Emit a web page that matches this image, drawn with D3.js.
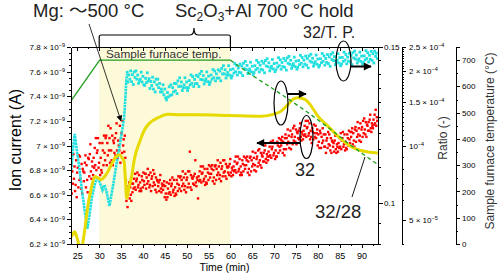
<!DOCTYPE html>
<html>
<head>
<meta charset="utf-8">
<script src="https://cdn.jsdelivr.net/npm/d3@7"></script>
<style>
body { margin: 0; background: #fff; }
svg { display: block; font-family: "Liberation Sans", Arial, "Noto Sans CJK JP", sans-serif; }
.axis path, .axis line { stroke: #000; stroke-width: 1; shape-rendering: crispEdges; }
.axis text { fill: #000; font-size: 8px; }
</style>
</head>
<body>
<script>
// ---- data ----

// 32 ion current (x 1e-9 A), sampled every 0.125 min from 23.6 min, one row per minute
var ionStart = 23.6, ionStep = 0.125;
var ionVals = [
  6.85,6.61,6.79,6.69,6.93,6.73,6.83,6.63,
  6.68,6.88,6.58,6.78,6.82,6.66,6.92,6.72,
  6.91,6.73,6.65,6.85,6.61,6.81,6.79,6.71,
  6.78,6.86,6.92,6.66,6.84,6.72,6.62,6.90,
  6.89,6.75,6.93,7.01,6.79,6.73,6.87,6.83,
  6.76,6.90,6.82,6.98,6.84,7.06,6.80,6.94,
  6.96,7.06,6.82,6.86,7.02,6.76,6.90,6.80,
  6.78,7.02,6.96,6.84,7.08,6.94,6.88,7.06,
  7.08,6.84,7.02,6.92,7.16,6.96,7.06,6.86,
  7.14,6.96,6.88,7.08,6.84,7.04,7.02,6.94,
  7.06,6.92,7.10,7.18,6.96,6.90,7.04,7.00,
  6.96,7.16,6.86,7.06,7.10,6.94,7.20,7.00,
  7.05,6.95,7.08,6.90,6.72,6.55,6.60,6.50,
  6.63,6.67,6.70,6.57,6.66,6.60,6.55,6.69,
  6.62,6.69,6.65,6.73,6.66,6.77,6.64,6.71,
  6.73,6.78,6.66,6.68,6.76,6.63,6.70,6.65,
  6.63,6.75,6.72,6.66,6.78,6.71,6.68,6.77,
  6.77,6.65,6.74,6.69,6.81,6.71,6.76,6.66,
  6.68,6.78,6.63,6.73,6.75,6.67,6.80,6.70,
  6.77,6.68,6.64,6.74,6.62,6.72,6.71,6.67,
  6.70,6.63,6.72,6.76,6.65,6.62,6.69,6.67,
  6.64,6.68,6.71,6.58,6.67,6.61,6.56,6.70,
  6.58,6.65,6.61,6.69,6.62,6.72,6.60,6.67,
  6.69,6.74,6.62,6.64,6.72,6.59,6.66,6.61,
  6.60,6.72,6.69,6.63,6.75,6.68,6.65,6.74,
  6.75,6.63,6.72,6.67,6.79,6.69,6.74,6.64,
  6.67,6.77,6.62,6.72,6.74,6.66,6.79,6.69,
  6.79,6.95,6.66,6.76,6.64,6.74,6.73,6.69,
  6.75,6.68,6.77,6.88,6.70,6.67,6.74,6.72,
  6.57,6.75,6.71,6.79,6.72,6.83,6.70,6.77,
  6.78,6.83,6.71,6.73,6.81,6.68,6.75,6.70,
  6.69,6.81,6.78,6.72,6.84,6.77,6.74,6.83,
  6.77,6.81,6.84,6.71,6.80,6.74,6.69,6.83,
  6.84,6.72,6.81,6.76,6.88,6.78,6.83,6.73,
  6.76,6.86,6.71,6.81,6.83,6.75,6.88,6.78,
  6.88,6.79,6.75,6.85,6.73,6.83,6.82,6.78,
  6.83,6.76,6.85,6.89,6.78,6.75,6.82,6.80,
  6.76,6.83,6.79,6.87,6.80,6.91,6.78,6.85,
  6.86,6.91,6.79,6.81,6.89,6.76,6.83,6.78,
  6.76,6.88,6.85,6.79,6.91,6.84,6.81,6.90,
  6.84,6.88,6.91,6.78,6.87,6.81,6.76,6.90,
  6.91,6.79,6.88,6.83,6.95,6.85,6.90,6.80,
  6.84,6.94,6.79,6.89,6.91,6.83,6.96,6.86,
  6.97,6.88,6.84,6.94,6.82,6.92,6.91,6.87,
  6.94,6.87,6.96,7.00,6.89,6.86,6.93,6.91,
  6.88,6.95,6.91,6.99,6.92,7.03,6.90,6.97,
  6.99,7.04,6.92,6.94,7.02,6.89,6.96,6.91,
  6.91,7.03,7.00,6.94,7.06,6.99,6.96,7.05,
  7.00,7.04,7.07,6.94,7.03,6.97,6.92,7.06,
  7.09,6.97,7.06,7.01,7.13,7.03,7.08,6.98,
  7.02,7.12,6.97,7.07,7.09,7.01,7.14,7.04,
  7.16,7.07,7.03,7.13,7.01,7.11,7.10,7.06,
  7.12,7.05,7.14,7.18,7.07,7.04,7.11,7.09,
  7.05,7.12,7.08,7.16,7.09,7.20,7.07,7.14,
  7.15,7.20,7.08,7.10,7.18,7.05,7.12,7.07,
  7.02,7.14,7.11,7.05,7.17,7.10,7.07,7.16,
  7.06,7.10,7.13,7.00,7.09,7.03,6.98,7.12,
  7.10,6.98,7.07,7.02,7.14,7.04,7.09,6.99,
  6.99,7.09,6.94,7.04,7.06,6.98,7.11,7.01,
  7.09,7.00,6.96,7.06,6.94,7.04,7.03,6.99,
  7.02,6.95,7.04,7.08,6.97,6.94,7.01,6.99,
  6.95,7.02,6.98,7.06,6.99,7.10,6.97,7.04,
  7.06,7.11,6.99,7.01,7.09,6.96,7.03,6.98,
  6.97,7.09,7.06,7.00,7.12,7.05,7.02,7.11,
  7.07,7.11,7.14,7.01,7.10,7.04,6.99,7.13,
  7.15,7.03,7.12,7.07,7.19,7.09,7.14,7.04,
  7.08,7.18,7.03,7.13,7.15,7.07,7.20,7.10,
  7.22,7.13,7.09,7.19,7.07,7.17,7.16,7.12,
  7.19,7.12,7.21,7.25,7.14,7.11,7.18,7.16,
  7.14,7.21,7.17,7.25,7.18,7.29,7.16,7.23,
  7.20
];

// 32/T.P. ratio, first part (a clean trace) as time / value pairs
var tpEarlyTime = [23.6, 24.0, 24.4, 25.0, 25.55, 26.1, 26.7, 27.3, 27.75, 28.2, 28.6, 29.0, 29.6,
                   30.2, 30.75, 31.2, 31.7, 32.35, 33.3, 34.1, 35.0, 35.7, 36.0, 36.2, 36.4];
var tpEarly = [0.1090, 0.1150, 0.1197, 0.1137, 0.1088, 0.1030, 0.0980, 0.0936, 0.0968, 0.1007, 0.1030, 0.1051, 0.1071,
               0.1054, 0.1035, 0.1049, 0.1030, 0.0993, 0.1057, 0.1119, 0.1188, 0.1248, 0.1318, 0.1377, 0.1399];

// 32/T.P. ratio after 36.4 min, every 0.2 min, one row per minute
var tpStart = 36.4, tpStep = 0.2;
var tpVals = [
  0.1405,0.1370,0.1395,0.1380,0.1410,
  0.1371,0.1396,0.1361,0.1406,0.1386,
  0.1410,0.1380,0.1395,0.1365,0.1375,
  0.1380,0.1405,0.1370,0.1390,0.1360,
  0.1358,0.1383,0.1368,0.1403,0.1373,
  0.1382,0.1347,0.1372,0.1357,0.1387,
  0.1345,0.1370,0.1335,0.1380,0.1360,
  0.1380,0.1350,0.1365,0.1335,0.1345,
  0.1335,0.1360,0.1325,0.1345,0.1315,
  0.1308,0.1333,0.1318,0.1353,0.1323,
  0.1360,0.1325,0.1350,0.1335,0.1365,
  0.1339,0.1364,0.1329,0.1374,0.1354,
  0.1385,0.1355,0.1370,0.1340,0.1350,
  0.1360,0.1385,0.1350,0.1370,0.1340,
  0.1350,0.1375,0.1360,0.1395,0.1365,
  0.1389,0.1354,0.1379,0.1364,0.1394,
  0.1364,0.1389,0.1354,0.1399,0.1379,
  0.1408,0.1378,0.1393,0.1363,0.1373,
  0.1381,0.1406,0.1371,0.1391,0.1361,
  0.1370,0.1395,0.1380,0.1415,0.1385,
  0.1409,0.1374,0.1399,0.1384,0.1414,
  0.1384,0.1409,0.1374,0.1419,0.1399,
  0.1429,0.1399,0.1414,0.1384,0.1394,
  0.1404,0.1429,0.1394,0.1414,0.1384,
  0.1392,0.1417,0.1402,0.1437,0.1407,
  0.1430,0.1395,0.1420,0.1405,0.1435,
  0.1403,0.1428,0.1393,0.1438,0.1418,
  0.1445,0.1415,0.1430,0.1400,0.1410,
  0.1417,0.1442,0.1407,0.1427,0.1397,
  0.1404,0.1429,0.1414,0.1449,0.1419,
  0.1441,0.1406,0.1431,0.1416,0.1446,
  0.1413,0.1438,0.1403,0.1448,0.1428,
  0.1455,0.1425,0.1440,0.1410,0.1420,
  0.1427,0.1452,0.1417,0.1437,0.1407,
  0.1414,0.1439,0.1424,0.1459,0.1429,
  0.1451,0.1416,0.1441,0.1426,0.1456,
  0.1423,0.1448,0.1413,0.1458,0.1438,
  0.1464,0.1434,0.1449,0.1419,0.1429,
  0.1436,0.1461,0.1426,0.1446,0.1416,
  0.1423,0.1448,0.1433,0.1468,0.1438,
  0.1460,0.1425,0.1450,0.1435,0.1465,
  0.1431,0.1456,0.1421,0.1466,0.1446,
  0.1472,0.1442,0.1457,0.1427,0.1437,
  0.1444,0.1469,0.1434,0.1454,0.1424,
  0.1430,0.1455,0.1440,0.1475,0.1445,
  0.1466,0.1431,0.1456,0.1441,0.1471,
  0.1437,0.1462,0.1427,0.1472,0.1452,
  0.1478,0.1448,0.1463,0.1433,0.1443,
  0.1449,0.1474,0.1439,0.1459,0.1429,
  0.1435,0.1460,0.1445,0.1480,0.1450,
  0.1471,0.1436,0.1461,0.1446,0.1476,
  0.1443,0.1468,0.1433,0.1478,0.1458,
  0.1484,0.1454,0.1469,0.1439,0.1449,
  0.1455,0.1480,0.1445,0.1465,0.1435,
  0.1441,0.1466,0.1451,0.1486,0.1456,
  0.1478,0.1443,0.1468,0.1453,0.1483,
  0.1449,0.1474,0.1439,0.1484,0.1464,
  0.1476,0.1456
];

// 32/28 ratio (x 1e-4)
var ratioTime = [23.56, 24.0, 24.4, 24.8, 25.15, 25.5, 26.0, 26.3, 26.8, 27.2, 28.2, 29.0, 29.7, 30.4, 31.25, 32.0,
                 33.15, 33.9, 34.7, 35.2, 35.7, 35.97, 36.3, 36.75, 37.35, 38.1, 39.3, 40.4, 41.6, 43.5, 45.7,
                 48.7, 52.6, 59.5, 67.0, 69.3, 71.6, 73.2, 74.3, 75.45, 77.05, 78.2, 80.0, 82.3, 84.6, 86.9,
                 89.15, 91.45, 93.72];
var ratioVals = [0.427, 0.44, 0.448, 0.43, 0.41, 0.38, 0.38, 0.41, 0.47, 0.539, 0.674, 0.749, 0.740, 0.727, 0.749, 0.785,
                 0.862, 0.904, 0.918, 0.893, 0.862, 0.738, 0.612, 0.672, 0.740, 0.890, 1.040, 1.161, 1.235, 1.295, 1.336,
                 1.330, 1.330, 1.323, 1.314, 1.330, 1.377, 1.466, 1.537, 1.561, 1.537, 1.466, 1.314, 1.197, 1.090, 1.008,
                 0.962, 0.942, 0.933];

// sample furnace temperature (°C); measured up to 60 min, dashed after
var tempTime = [23.56, 30.1, 60.0, 64.5, 69.1, 73.6, 78.2, 82.8, 87.4, 93.5];
var tempVals = [545, 700, 700, 647, 598, 548, 495, 438, 377, 305];

var holdRange = [30, 60];

// tick values
var xTicks = [25, 30, 35, 40, 45, 50, 55, 60, 65, 70, 75, 80, 85, 90];
var ionTicks = [6.2, 6.4, 6.6, 6.8, 7.0, 7.2, 7.4, 7.6, 7.8];
var tpTicks = [0.1, 0.15];
var ratioTicks = [0.5, 1, 1.5, 2, 2.5];
var tempTicks = [0, 100, 200, 300, 400, 500, 600, 700];

// ---- layout ----
var w = 498, h = 276;
var pLeft = 71, pRight = 378, pTop = 47, pBottom = 244;

var x = d3.scaleLinear().domain([23.55, 93.75]).range([pLeft, pRight]);
var yIon = d3.scaleLinear().domain([6.2, 7.8]).range([pBottom, pTop]);
var yTP = d3.scaleLog().domain([0.09, 0.15]).range([pBottom, pTop]);
var yRatio = d3.scaleLog().domain([0.4, 2.5]).range([pBottom, pTop]);
var yTemp = d3.scaleLinear().domain([0, 750]).range([pBottom, pTop]);

var svg = d3.select("body").append("svg")
  .attr("width", w)
  .attr("height", h);

var defs = svg.append("defs");
defs.append("clipPath").attr("id", "plot")
  .append("rect")
  .attr("x", pLeft).attr("y", pTop)
  .attr("width", pRight - pLeft).attr("height", pBottom - pTop);
defs.append("marker").attr("id", "headBig")
  .attr("viewBox", "0 0 10 10").attr("refX", 9).attr("refY", 5)
  .attr("markerUnits", "userSpaceOnUse")
  .attr("markerWidth", 9).attr("markerHeight", 8).attr("orient", "auto")
  .append("path").attr("d", "M0,0L10,5L0,10Z").attr("fill", "#000");
defs.append("marker").attr("id", "headSmall")
  .attr("viewBox", "0 0 10 10").attr("refX", 9).attr("refY", 5)
  .attr("markerUnits", "userSpaceOnUse")
  .attr("markerWidth", 7).attr("markerHeight", 6).attr("orient", "auto")
  .append("path").attr("d", "M0,0L10,5L0,10Z").attr("fill", "#000");

// hold period shade
svg.append("rect")
  .attr("x", x(holdRange[0]))
  .attr("y", pTop)
  .attr("width", x(holdRange[1]) - x(holdRange[0]))
  .attr("height", pBottom - pTop)
  .attr("fill", "#fcfad8");

var plot = svg.append("g").attr("clip-path", "url(#plot)");

// red dots: 32
plot.selectAll(".ion")
  .data(ionVals)
  .enter()
  .append("rect")
  .attr("class", "ion")
  .attr("x", function(d, i) { return x(ionStart + i * ionStep) - 1.2; })
  .attr("y", function(d) { return yIon(d) - 1.2; })
  .attr("width", 2.4)
  .attr("height", 2.4)
  .attr("fill", "#ff0000");

// cyan: 32/T.P.
plot.append("path")
  .datum(tpEarlyTime)
  .attr("d", d3.line()
    .x(function(d) { return x(d); })
    .y(function(d, i) { return yTP(tpEarly[i]); }))
  .attr("fill", "none")
  .attr("stroke", "#22e0e0")
  .attr("stroke-width", 2.6)
  .attr("stroke-dasharray", "2.6,0.6");

plot.selectAll(".tp")
  .data(tpVals)
  .enter()
  .append("rect")
  .attr("class", "tp")
  .attr("x", function(d, i) { return x(tpStart + i * tpStep) - 1.4; })
  .attr("y", function(d) { return yTP(d) - 1.4; })
  .attr("width", 2.8)
  .attr("height", 2.8)
  .attr("fill", "#22e0e0");

// yellow: 32/28
plot.append("path")
  .datum(ratioTime)
  .attr("d", d3.line()
    .curve(d3.curveMonotoneX)
    .x(function(d) { return x(d); })
    .y(function(d, i) { return yRatio(ratioVals[i]); }))
  .attr("fill", "none")
  .attr("stroke", "#e6da00")
  .attr("stroke-width", 3);

// green: furnace temperature
var tempLine = d3.line()
  .x(function(d) { return x(d[0]); })
  .y(function(d) { return yTemp(d[1]); });
var tempPts = tempTime.map(function(t, i) { return [t, tempVals[i]]; });
plot.append("path")
  .attr("d", tempLine(tempPts.filter(function(d) { return d[0] <= 60; })))
  .attr("fill", "none")
  .attr("stroke", "#1fa01f")
  .attr("stroke-width", 1.3);
plot.append("path")
  .attr("d", tempLine(tempPts.filter(function(d) { return d[0] >= 60; })))
  .attr("fill", "none")
  .attr("stroke", "#1fa01f")
  .attr("stroke-width", 1.3)
  .attr("stroke-dasharray", "4,3");

// ---- axes ----
function minorRange(a, b, s) {
  return d3.range(Math.round((b - a) / s) + 1).map(function(i) { return +(a + i * s).toFixed(6); });
}

// bottom
var gx = svg.append("g").attr("class", "axis")
  .attr("transform", "translate(0," + pBottom + ")")
  .call(d3.axisBottom(x).tickValues(xTicks).tickSize(4).tickSizeOuter(0).tickPadding(5));
gx.selectAll("text").style("font-size", "9px");
svg.append("g").attr("class", "axis")
  .attr("transform", "translate(0," + pBottom + ")")
  .call(d3.axisBottom(x).tickValues(minorRange(27.5, 92.5, 5)).tickSize(2).tickFormat(""))
  .select(".domain").remove();

// top frame
svg.append("g").attr("class", "axis")
  .attr("transform", "translate(0," + pTop + ")")
  .call(d3.axisTop(x).tickValues(xTicks).tickSize(-4).tickSizeOuter(0).tickFormat(""));
svg.append("g").attr("class", "axis")
  .attr("transform", "translate(0," + pTop + ")")
  .call(d3.axisTop(x).tickValues(minorRange(27.5, 92.5, 5)).tickSize(-2).tickFormat(""))
  .select(".domain").remove();

// left: ion current
var gy = svg.append("g").attr("class", "axis")
  .attr("transform", "translate(" + pLeft + ",0)")
  .call(d3.axisLeft(yIon).tickValues(ionTicks).tickSize(4).tickSizeOuter(0).tickPadding(2));
gy.selectAll(".tick text").text(null).each(function(d) {
  var t = d3.select(this);
  t.append("tspan").text((d === 7 ? "7" : d.toFixed(1)) + " \u00d7 10");
  t.append("tspan").attr("dy", "-0.5em").style("font-size", "5.5px").text("\u22129");
});
svg.append("g").attr("class", "axis")
  .attr("transform", "translate(" + pLeft + ",0)")
  .call(d3.axisLeft(yIon).tickValues(minorRange(6.2, 7.8, 0.05)).tickSize(2).tickFormat(""))
  .select(".domain").remove();

// right frame: 32/T.P.
svg.append("g").attr("class", "axis")
  .attr("transform", "translate(" + pRight + ",0)")
  .call(d3.axisRight(yTP).tickValues(minorRange(0.09, 0.15, 0.005)).tickSize(3).tickSizeOuter(0).tickFormat(""));
svg.append("g").attr("class", "axis")
  .attr("transform", "translate(" + pRight + ",0)")
  .call(d3.axisRight(yTP).tickValues(tpTicks).tickSize(5).tickPadding(1).tickFormat(function(d) { return String(d); }))
  .select(".domain").remove();

// ratio axis
var ratioX = 402;
svg.append("g").attr("class", "axis")
  .attr("transform", "translate(" + ratioX + ",0)")
  .call(d3.axisRight(yRatio)
    .tickValues(minorRange(0.4, 1, 0.1).concat(minorRange(1, 2.5, 0.05)))
    .tickSize(2).tickSizeOuter(0).tickFormat(""));
var gr = svg.append("g").attr("class", "axis")
  .attr("transform", "translate(" + ratioX + ",0)")
  .call(d3.axisRight(yRatio).tickValues(ratioTicks).tickSize(4).tickPadding(3));
gr.select(".domain").remove();
gr.selectAll(".tick text").text(null).each(function(d) {
  var t = d3.select(this);
  var mant = d < 1 ? d * 10 : d;
  var exp = d < 1 ? "\u22125" : "\u22124";
  t.append("tspan").text(mant === 1 ? "10" : mant + " \u00d7 10");
  t.append("tspan").attr("dy", "-0.5em").style("font-size", "5.5px").text(exp);
});

// temperature axis
var tempX = 456;
svg.append("g").attr("class", "axis")
  .attr("transform", "translate(" + tempX + ",0)")
  .call(d3.axisRight(yTemp).tickValues(tempTicks).tickSize(4).tickSizeOuter(4).tickPadding(2));
svg.append("g").attr("class", "axis")
  .attr("transform", "translate(" + tempX + ",0)")
  .call(d3.axisRight(yTemp).tickValues(minorRange(50, 650, 100)).tickSize(2).tickFormat(""))
  .select(".domain").remove();

// axis titles
svg.append("text")
  .attr("transform", "translate(21,140) rotate(-90)")
  .attr("text-anchor", "middle")
  .style("font-size", "16px")
  .text("Ion current (A)");
svg.append("text")
  .attr("x", (pLeft + pRight) / 2)
  .attr("y", 271)
  .attr("text-anchor", "middle")
  .style("font-size", "10.5px")
  .text("Time (min)");
svg.append("text")
  .attr("transform", "translate(447,138) rotate(-90)")
  .attr("text-anchor", "middle")
  .style("font-size", "12px")
  .attr("fill", "#333")
  .text("Ratio (-)");
svg.append("text")
  .attr("transform", "translate(494,141) rotate(-90)")
  .attr("text-anchor", "middle")
  .style("font-size", "12px")
  .attr("fill", "#333")
  .text("Sample furnace temperature (\u00b0C)");

// ---- annotations ----
svg.append("text")
  .attr("x", 33).attr("y", 17)
  .style("font-size", "18.5px")
  .attr("fill", "#222")
  .text("Mg: \u301c500 \u00b0C");

var sc = svg.append("text")
  .attr("x", 175).attr("y", 17)
  .style("font-size", "18.5px")
  .attr("fill", "#222");
sc.append("tspan").text("Sc");
sc.append("tspan").attr("dy", 4).style("font-size", "12px").text("2");
sc.append("tspan").attr("dy", -4).text("O");
sc.append("tspan").attr("dy", 4).style("font-size", "12px").text("3");
sc.append("tspan").attr("dy", -4).text("+Al 700 \u00b0C hold");

// brace over the hold period
var bx0 = x(holdRange[0]), bx1 = x(holdRange[1]), bxm = 194;
svg.append("path")
  .attr("d", "M" + bx0 + "," + pTop + "V37Q" + bx0 + ",35 " + (bx0 + 2) + ",35H" + (bxm - 4) +
    "Q" + bxm + ",35 " + bxm + ",28Q" + bxm + ",35 " + (bxm + 4) + ",35H" + (bx1 - 2) +
    "Q" + bx1 + ",35 " + bx1 + ",37V" + pTop)
  .attr("fill", "none")
  .attr("stroke", "#000")
  .attr("stroke-width", 1.2);

// Mg pointer
svg.append("line")
  .attr("x1", 89).attr("y1", 24)
  .attr("x2", 121).attr("y2", 121)
  .attr("stroke", "#000")
  .attr("stroke-width", 0.8)
  .attr("marker-end", "url(#headSmall)");

svg.append("text")
  .attr("x", 106).attr("y", 58)
  .style("font-size", "11.8px")
  .attr("fill", "#333")
  .text("Sample furnace temp.");

svg.append("text")
  .attr("x", 303).attr("y", 38)
  .style("font-size", "16px")
  .attr("fill", "#222")
  .text("32/T. P.");

svg.append("text")
  .attr("x", 295).attr("y", 176)
  .style("font-size", "18px")
  .attr("fill", "#222")
  .text("32");

svg.append("text")
  .attr("x", 315).attr("y", 218)
  .style("font-size", "18.5px")
  .attr("fill", "#222")
  .text("32/28");

svg.append("line")
  .attr("x1", 352).attr("y1", 197)
  .attr("x2", 365).attr("y2", 157)
  .attr("stroke", "#000")
  .attr("stroke-width", 0.9);

// ellipses with arrows pointing to their axes
var marks = [
  {cx: 343.5, cy: 61, rx: 7.5, ry: 20, ax1: 351, ax2: 371, ay: 66.5},
  {cx: 281, cy: 103, rx: 7, ry: 22, ax1: 288, ax2: 306, ay: 94},
  {cx: 306.5, cy: 137, rx: 6.5, ry: 21.5, ax1: 300, ax2: 257, ay: 143}
];
svg.selectAll(".mark")
  .data(marks)
  .enter()
  .append("ellipse")
  .attr("class", "mark")
  .attr("cx", function(d) { return d.cx; })
  .attr("cy", function(d) { return d.cy; })
  .attr("rx", function(d) { return d.rx; })
  .attr("ry", function(d) { return d.ry; })
  .attr("fill", "none")
  .attr("stroke", "#000")
  .attr("stroke-width", 1.2);
svg.selectAll(".markArrow")
  .data(marks)
  .enter()
  .append("line")
  .attr("class", "markArrow")
  .attr("x1", function(d) { return d.ax1; })
  .attr("x2", function(d) { return d.ax2; })
  .attr("y1", function(d) { return d.ay; })
  .attr("y2", function(d) { return d.ay; })
  .attr("stroke", "#000")
  .attr("stroke-width", 2)
  .attr("marker-end", "url(#headBig)");
</script>
</body>
</html>
